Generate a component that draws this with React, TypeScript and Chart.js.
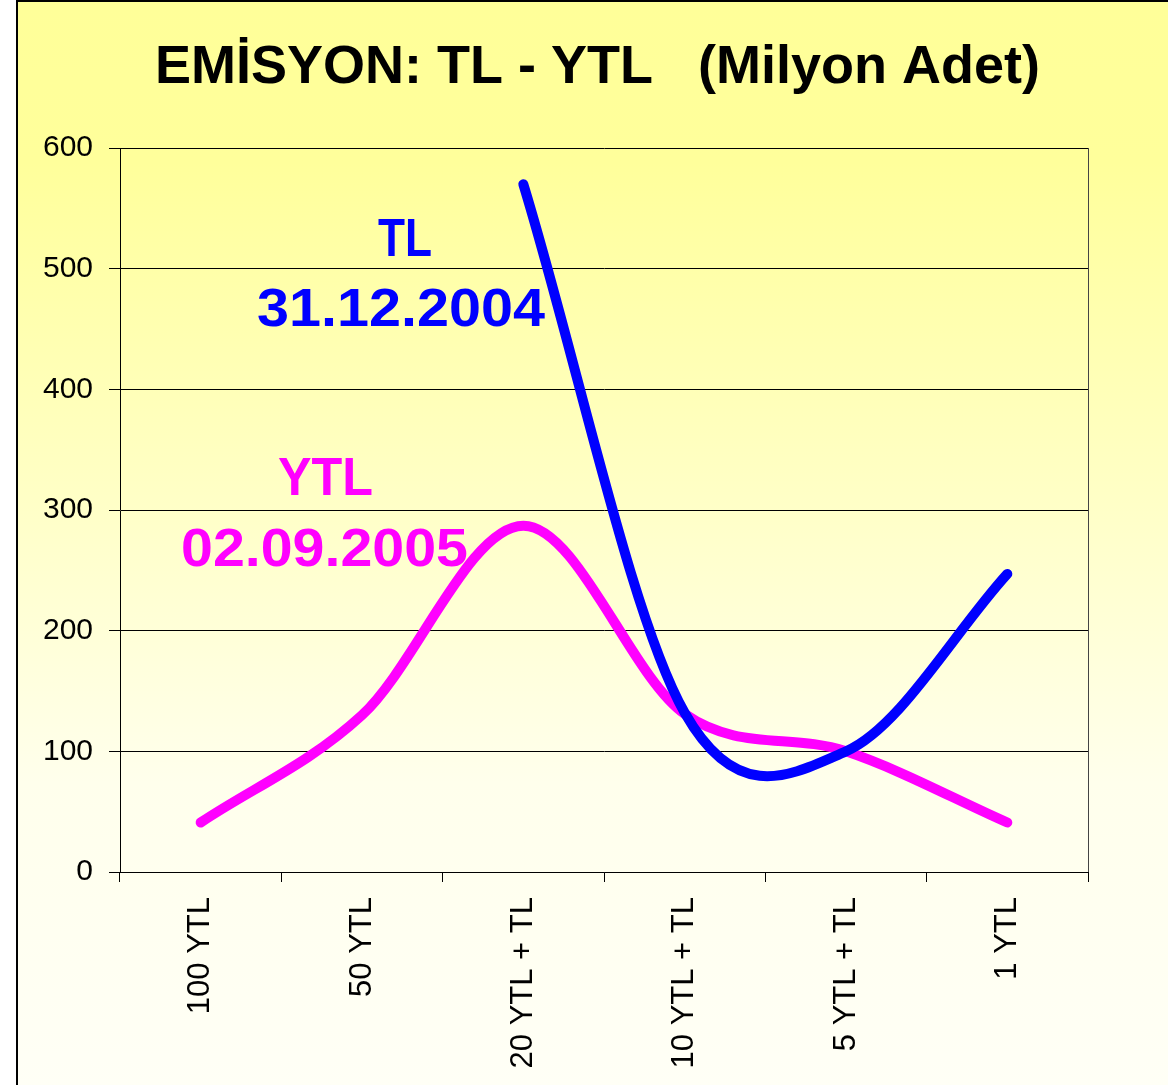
import React, { useEffect, useRef } from 'react';
import { Chart, registerables } from 'chart.js';

Chart.register(...registerables);

// ---- data ----
const categories = ['100 YTL', '50 YTL', '20 YTL + TL', '10 YTL + TL', '5 YTL + TL', '1 YTL'];
const tlValues: (number | null)[] = [null, null, 570, 132, 100, 247];
const ytlValues: (number | null)[] = [41, 130, 287, 131, 100, 41];
const yTicks = [0, 100, 200, 300, 400, 500, 600];

const titleText = 'EMİSYON: TL - YTL   (Milyon Adet)';
const tlName = 'TL';
const tlDate = '31.12.2004';
const ytlName = 'YTL';
const ytlDate = '02.09.2005';

const FONT = '"Liberation Sans", Arial, Helvetica, sans-serif';
const BLUE = '#0000FF';
const MAGENTA = '#FF00FF';

// Excel-like smoothing: interior handles = (next - prev) / 6, end handles = (neighbour - end) / 3
const excelSmooth = {
  id: 'excelSmooth',
  beforeDatasetDraw(chart: any, args: any) {
    const meta = args.meta;
    const line = meta.dataset;
    if (!line) return;
    line.updateControlPoints(chart.chartArea, meta.iScale.axis);
    const pts = meta.data.filter((p: any) => !p.skip);
    const n = pts.length;
    for (let i = 0; i < n; i++) {
      const cur = pts[i];
      const prev = pts[i - 1];
      const next = pts[i + 1];
      if (prev && next) {
        const dx = (next.x - prev.x) / 6;
        const dy = (next.y - prev.y) / 6;
        cur.cp1x = cur.x - dx; cur.cp1y = cur.y - dy;
        cur.cp2x = cur.x + dx; cur.cp2y = cur.y + dy;
      } else if (next) {
        cur.cp1x = cur.x; cur.cp1y = cur.y;
        cur.cp2x = cur.x + (next.x - cur.x) / 3; cur.cp2y = cur.y + (next.y - cur.y) / 3;
      } else if (prev) {
        cur.cp2x = cur.x; cur.cp2y = cur.y;
        cur.cp1x = cur.x - (cur.x - prev.x) / 3; cur.cp1y = cur.y - (cur.y - prev.y) / 3;
      }
    }
    line._path = undefined;
  },
};

function drawFitted(ctx: CanvasRenderingContext2D, text: string, left: number, baseline: number, size: number, width: number, color: string) {
  ctx.save();
  ctx.font = `bold ${size}px ${FONT}`;
  ctx.fillStyle = color;
  ctx.textAlign = 'left';
  ctx.textBaseline = 'alphabetic';
  const w = ctx.measureText(text).width;
  const sx = width / w;
  ctx.translate(left, baseline);
  ctx.scale(sx, 1);
  ctx.fillText(text, 0, 0);
  ctx.restore();
}

const decorations = {
  id: 'decorations',
  afterDraw(chart: any) {
    const ctx: CanvasRenderingContext2D = chart.ctx;
    const a = chart.chartArea;
    ctx.save();
    ctx.strokeStyle = '#444';
    ctx.lineWidth = 1;
    ctx.beginPath();
    ctx.moveTo(Math.round(a.right) + 0.5, a.top);
    ctx.lineTo(Math.round(a.right) + 0.5, a.bottom);
    ctx.stroke();
    ctx.restore();

    drawFitted(ctx, titleText, 155, 83, 54, 885, '#000');
    drawFitted(ctx, tlName, 378, 256, 53, 54, BLUE);
    drawFitted(ctx, tlDate, 257, 326, 53, 288, BLUE);
    drawFitted(ctx, ytlName, 278, 495, 53, 95, MAGENTA);
    drawFitted(ctx, ytlDate, 181, 566, 53, 287, MAGENTA);
  },
};

export default function App() {
  const ref = useRef<HTMLCanvasElement | null>(null);

  useEffect(() => {
    if (!ref.current) return;
    const chart = new Chart(ref.current, {
      type: 'line',
      data: {
        labels: categories,
        datasets: [
          {
            label: 'TL 31.12.2004',
            data: tlValues,
            borderColor: BLUE,
            backgroundColor: BLUE,
            borderWidth: 10,
            pointRadius: 0,
            pointHoverRadius: 0,
            tension: 0.3,
            borderCapStyle: 'round',
            borderJoinStyle: 'round',
            fill: false,
            spanGaps: false,
          },
          {
            label: 'YTL 02.09.2005',
            data: ytlValues,
            borderColor: MAGENTA,
            backgroundColor: MAGENTA,
            borderWidth: 10,
            pointRadius: 0,
            pointHoverRadius: 0,
            tension: 0.3,
            borderCapStyle: 'round',
            borderJoinStyle: 'round',
            fill: false,
          },
        ],
      },
      options: {
        responsive: false,
        animation: false,
        devicePixelRatio: 1,
        events: [],
        layout: { padding: { top: 148, right: 80, left: 0, bottom: 0 } },
        plugins: {
          legend: { display: false },
          title: { display: false },
          tooltip: { enabled: false },
        },
        scales: {
          x: {
            type: 'category',
            offset: true,
            grid: {
              offset: true,
              drawOnChartArea: false,
              drawTicks: true,
              tickLength: 10,
              color: '#000',
              lineWidth: 1,
            },
            border: { display: true, color: '#000', width: 1 },
            ticks: {
              autoSkip: false,
              minRotation: 90,
              maxRotation: 90,
              padding: 15,
              color: '#000',
              font: { family: FONT, size: 31 },
            },
            afterFit: (s: any) => { s.height = 213; },
          },
          y: {
            type: 'linear',
            min: 0,
            max: 600,
            afterBuildTicks: (s: any) => { s.ticks = yTicks.map((v) => ({ value: v })); },
            ticks: {
              padding: 16,
              color: '#000',
              font: { family: FONT, size: 30 },
            },
            grid: { color: '#000', lineWidth: 1, tickLength: 11, drawTicks: true },
            border: { display: true, color: '#000', width: 1 },
            afterFit: (s: any) => { s.width = 120; },
          },
        },
      },
      plugins: [excelSmooth, decorations],
    } as any);
    return () => chart.destroy();
  }, []);

  return (
    <div style={{ position: 'absolute', left: 0, top: 0, width: 1168, height: 1085, overflow: 'hidden', background: '#fff' }}>
      <div
        style={{
          position: 'absolute',
          left: 16,
          top: 0,
          width: 1200,
          height: 1200,
          borderLeft: '2px solid #000',
          borderTop: '2px solid #000',
          background: 'linear-gradient(to bottom, #FFFF99 0px, #FFFF9B 160px, #FFFFC4 480px, #FFFFEC 780px, #FFFFF6 1085px)',
        }}
      />
      <canvas ref={ref} width={1168} height={1085} style={{ position: 'absolute', left: 0, top: 0, width: 1168, height: 1085 }} />
    </div>
  );
}
